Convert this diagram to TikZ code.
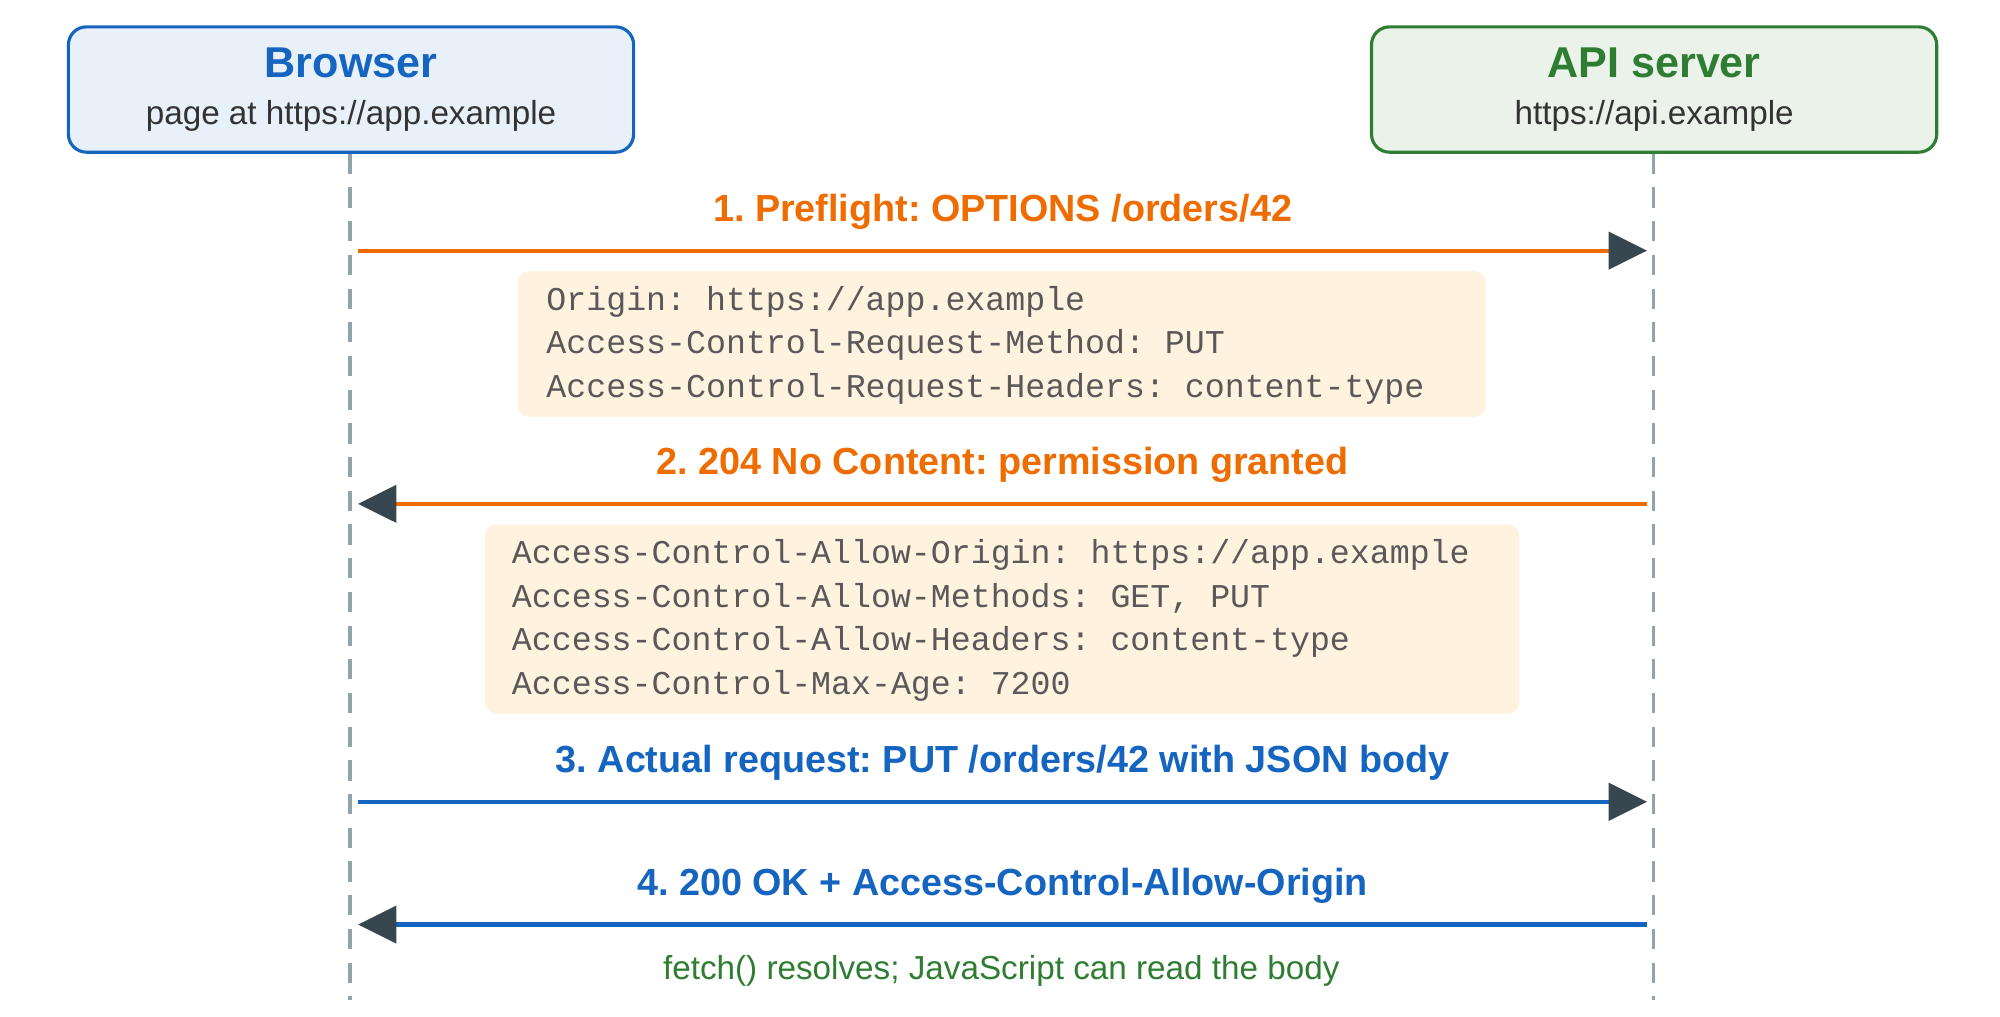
\documentclass[tikz,border=0pt]{standalone}
\usepackage{fontspec}
\setmainfont{Liberation Sans}
\setmonofont{Liberation Mono}
\usetikzlibrary{arrows.meta}
\definecolor{bblue}{HTML}{1565C0}
\definecolor{gsrv}{HTML}{2E7D32}
\definecolor{orng}{HTML}{EF6C00}
\definecolor{headdk}{HTML}{37474F}
\definecolor{lifeg}{HTML}{90A4AE}
\definecolor{notef}{HTML}{FFF3E0}
\begin{document}
\frenchspacing
\begin{tikzpicture}[x=0.02cm,y=-0.02cm]
\tikzstyle{actor}=[rectangle, rounded corners=8pt, line width=1.4pt,
                   minimum width=442*0.02cm, minimum height=98*0.02cm, align=center]
\tikzstyle{life}=[lifeg, line width=1.7pt, dash pattern=on 9pt off 6pt]
\tikzstyle{msg}=[line width=1.9pt, -{Triangle[length=0.6cm, width=0.58cm, color=headdk]}]
\tikzstyle{lbl}=[font=\fontsize{16.8}{20}\selectfont\bfseries, inner sep=0pt]
\tikzstyle{note}=[fill=notef, rounded corners=5pt]
\tikzstyle{hdr}=[anchor=west, inner sep=0pt, font=\fontsize{14.8}{17}\ttfamily, text=black!65]
\useasboundingbox (0,0) rectangle (1564,795);
	\node[actor, draw=bblue, fill=bblue!10] (br) at (274.5,70)
	  {\fontsize{19.2}{23}\selectfont\bfseries\color{bblue}Browser\\[9pt]
	   \fontsize{14.8}{17}\selectfont\color{black!80}page at https://app.example};
	\node[actor, draw=gsrv, fill=gsrv!10] (api) at (1293.5,70)
	  {\fontsize{19.2}{23}\selectfont\bfseries\color{gsrv}API server\\[9pt]
	   \fontsize{14.8}{17}\selectfont\color{black!80}https://api.example};
	\coordinate (brEnd) at (274,782);
	\coordinate (apiEnd) at (1293,782);
	\draw[life] (br.south -| brEnd) -- (brEnd);
	\draw[life] (api.south -| apiEnd) -- (apiEnd);

	% messages
	\foreach \n/\y/\a/\b/\c/\t in {m1/196/280/1288/orng/{1. Preflight: OPTIONS /orders/42},
	  m2/394/1288/280/orng/{2. 204 No Content: permission granted},
	  m3/627/280/1288/bblue/{3. Actual request: PUT /orders/42 with JSON body},
	  m4/723/1288/280/bblue/{4. 200 OK + Access-Control-Allow-Origin}}{
	  \coordinate (\n s) at (\a,\y);
	  \coordinate (\n e) at (\b,\y);
	  \draw[msg, \c] (\n s) -- node[lbl, text=\c, above=0.3cm]{\t} (\n e);
	}

	% header notes
	\fill[note] (405,212) rectangle (1162,326);
	\foreach \y/\t in {236/{Origin: https://app.example}, 270/{Access-Control-Request-Method: PUT},
	  304/{Access-Control-Request-Headers: content-type}}
	  \node[hdr] (h\y) at (427,\y) {\t};
	\fill[note] (379,410) rectangle (1188,558);
	\foreach \y/\t in {434/{Access-Control-Allow-Origin: https://app.example},
	  468/{Access-Control-Allow-Methods: GET, PUT}, 502/{Access-Control-Allow-Headers: content-type},
	  536/{Access-Control-Max-Age: 7200}}
	  \node[hdr] (h\y) at (400,\y) {\t};

	\node[font=\fontsize{14.8}{17}\selectfont, text=gsrv] (res) at (783,759)
	  {fetch() resolves; JavaScript can read the body};
\end{tikzpicture}
\end{document}
